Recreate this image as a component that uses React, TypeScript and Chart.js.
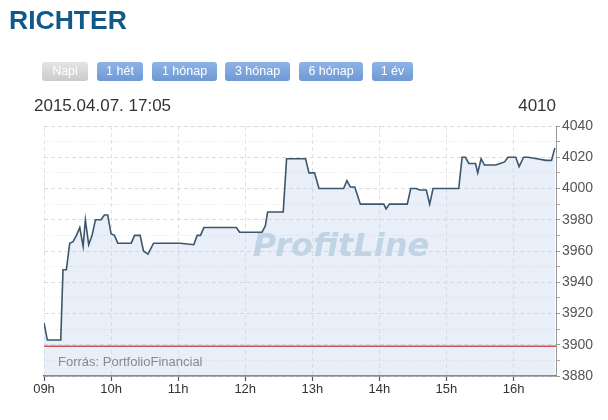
import React, { useEffect, useRef } from "react";
import { Chart, registerables } from "chart.js";

Chart.register(...registerables);

const TITLE = "RICHTER";
const RANGE_BUTTONS = ["Napi", "1 hét", "1 hónap", "3 hónap", "6 hónap", "1 év"];
const ACTIVE_BUTTON = "Napi";
const TIMESTAMP = "2015.04.07. 17:05";
const LAST_PRICE = "4010";
const SOURCE = "Forrás: PortfolioFinancial";
const WATERMARK = "ProfitLine";

const SESSION_START = "09:00";
const SESSION_END = "16:38";
const HOUR_TICKS = [9, 10, 11, 12, 13, 14, 15, 16];

const TIMES = [
  "09:00", "09:03", "09:15", "09:17", "09:20", "09:23", "09:26", "09:29", "09:32", "09:35",
  "09:37", "09:40", "09:43", "09:46", "09:51", "09:54", "09:57", "10:00", "10:03", "10:06",
  "10:18", "10:21", "10:26", "10:29", "10:33", "10:38", "11:02", "11:14", "11:17", "11:20",
  "11:23", "11:52", "11:55", "12:15", "12:18", "12:20", "12:34", "12:37", "12:54", "12:57",
  "13:02", "13:06", "13:28", "13:31", "13:34", "13:38", "13:43", "14:04", "14:06", "14:09",
  "14:25", "14:28", "14:33", "14:36", "14:42", "14:45", "14:48", "15:11", "15:14", "15:17",
  "15:20", "15:23", "15:26", "15:28", "15:31", "15:34", "15:44", "15:48", "15:52", "15:55",
  "16:02", "16:05", "16:09", "16:13", "16:21", "16:29", "16:34", "16:37",
];
const PRICES = [
  3914, 3903, 3903, 3948, 3948, 3965, 3966, 3970, 3975, 3963,
  3980, 3964, 3970, 3980, 3980, 3983, 3983, 3971, 3970, 3965,
  3965, 3970, 3970, 3960, 3958, 3965, 3965, 3964, 3970, 3970,
  3975, 3975, 3972, 3972, 3976, 3985, 3985, 4019, 4019, 4010,
  4010, 4000, 4000, 4005, 4001, 4001, 3990, 3990, 3987, 3990,
  3990, 4000, 4000, 3999, 3999, 3990, 4000, 4000, 4020, 4020,
  4016, 4016, 4016, 4010, 4019, 4015, 4015, 4016, 4017, 4020,
  4020, 4014, 4020, 4020, 4019, 4018, 4018, 4026,
];
const PREV_CLOSE = 3899;

const Y_MIN = 3880;
const Y_MAX = 4040;
const Y_STEP = 10;
const Y_LABEL_STEP = 20;

const FONT = "'Liberation Sans', Arial, Helvetica, sans-serif";

const toMinutes = (t: string) => {
  const [h, m] = t.split(":").map(Number);
  return h * 60 + m;
};
const START_MIN = toMinutes(SESSION_START);
const sinceOpen = (t: string) => toMinutes(t) - START_MIN;

const BUTTON_BOXES = [
  { left: 42, width: 46 },
  { left: 97, width: 46 },
  { left: 152, width: 65 },
  { left: 225, width: 65 },
  { left: 299, width: 64 },
  { left: 372, width: 41 },
];

const watermarkPlugin = {
  id: "watermark",
  afterDatasetsDraw(chart: any) {
    const { ctx, chartArea } = chart;
    const cx = chartArea.left + (chartArea.right - chartArea.left) * 0.58;
    const cy = chartArea.top + (chartArea.bottom - chartArea.top) * 0.487;
    ctx.save();
    ctx.font = "italic bold 32px 'DejaVu Sans', sans-serif";
    ctx.fillStyle = "#c0d4e5";
    ctx.textAlign = "center";
    ctx.textBaseline = "middle";
    ctx.fillText(WATERMARK, cx, cy);
    ctx.restore();
  },
};

export default function App() {
  const canvasRef = useRef<HTMLCanvasElement | null>(null);

  useEffect(() => {
    if (!canvasRef.current) return;
    const priceData = TIMES.map((t, i) => ({ x: sinceOpen(t), y: PRICES[i] }));
    const endX = sinceOpen(SESSION_END);
    const chart = new Chart(canvasRef.current, {
      type: "line",
      data: {
        datasets: [
          {
            label: "Előző záró",
            data: [
              { x: 0, y: PREV_CLOSE },
              { x: endX, y: PREV_CLOSE },
            ],
            borderColor: "#cf5252",
            borderWidth: 1.6,
            pointRadius: 0,
            fill: false,
          },
          {
            label: TITLE,
            data: priceData,
            borderColor: "#3c566c",
            borderWidth: 1.6,
            pointRadius: 0,
            tension: 0,
            fill: "start",
            backgroundColor: "rgba(190,212,235,0.36)",
          },
        ],
      },
      options: {
        animation: false,
        responsive: false,
        devicePixelRatio: 1,
        layout: { padding: { left: 44, top: 126, right: 0, bottom: 14 } },
        plugins: {
          legend: { display: false },
          tooltip: { enabled: false },
        },
        scales: {
          x: {
            type: "linear",
            min: 0,
            max: endX,
            afterBuildTicks: (axis: any) => {
              axis.ticks = HOUR_TICKS.map((h) => ({ value: h * 60 - START_MIN }));
            },
            afterFit: (axis: any) => {
              axis.height = 30;
            },
            ticks: {
              callback: (v: any) => String(Math.round(START_MIN / 60 + v / 60)).padStart(2, "0") + "h",
              color: "#333",
              font: { family: FONT, size: 13 },
              padding: 1,
              maxRotation: 0,
              autoSkip: false,
            },
            grid: {
              color: "#e2e2e2",
              lineWidth: 1,
              tickLength: 5,
              tickColor: "#555",
              tickWidth: 1.2,
            },
            border: {
              color: "#666",
              width: 1.5,
              dash: [4, 3],
            },
          },
          y: {
            position: "right",
            min: Y_MIN,
            max: Y_MAX,
            afterFit: (axis: any) => {
              axis.width = 52;
            },
            ticks: {
              stepSize: Y_STEP,
              autoSkip: false,
              callback: (v: any) => (Number(v) % Y_LABEL_STEP === 0 ? String(v) : ""),
              color: "#555",
              font: { family: FONT, size: 14 },
              padding: 2,
            },
            grid: {
              color: (ctx: any) =>
                ctx.tick && ctx.tick.value % Y_LABEL_STEP !== 0 ? "#e4e4e4" : "#dcdcdc",
              lineWidth: 1,
              tickLength: 4,
              tickColor: (ctx: any) =>
                ctx.tick && ctx.tick.value % Y_LABEL_STEP !== 0 ? "#d49090" : "#999",
            },
            border: {
              color: "#999",
              width: 1,
              dash: (ctx: any) =>
                ctx.tick && ctx.tick.value % Y_LABEL_STEP !== 0 ? [1, 2] : [4, 3],
            },
          },
        },
      },
      plugins: [watermarkPlugin],
    } as any);
    return () => chart.destroy();
  }, []);

  return (
    <div
      style={{
        position: "fixed",
        left: 0,
        top: 0,
        width: 608,
        height: 420,
        background: "#fff",
        fontFamily: FONT,
        overflow: "hidden",
      }}
    >
      <canvas
        ref={canvasRef}
        width={608}
        height={420}
        style={{ position: "absolute", left: 0, top: 0, width: 608, height: 420 }}
      />
      <div
        style={{
          position: "absolute",
          left: 9,
          top: 7,
          fontSize: 26.5,
          lineHeight: "26px",
          fontWeight: "bold",
          color: "#0f5a8a",
        }}
      >
        {TITLE}
      </div>
      {RANGE_BUTTONS.map((label, i) => {
        const active = label === ACTIVE_BUTTON;
        return (
          <div
            key={label}
            style={{
              position: "absolute",
              left: BUTTON_BOXES[i].left,
              width: BUTTON_BOXES[i].width,
              top: 62,
              height: 19,
              lineHeight: "19px",
              borderRadius: 3,
              textAlign: "center",
              fontSize: 12.5,
              color: "#fff",
              background: active
                ? "linear-gradient(#e4e4e4, #cbcbcb)"
                : "linear-gradient(#8fb3e6, #6d99d6)",
            }}
          >
            {label}
          </div>
        );
      })}
      <div
        style={{
          position: "absolute",
          left: 34,
          top: 97,
          fontSize: 17,
          lineHeight: "17px",
          color: "#333",
        }}
      >
        {TIMESTAMP}
      </div>
      <div
        style={{
          position: "absolute",
          right: 52,
          top: 97,
          fontSize: 17,
          lineHeight: "17px",
          color: "#333",
        }}
      >
        {LAST_PRICE}
      </div>
      <div
        style={{
          position: "absolute",
          left: 58,
          top: 355,
          fontSize: 13,
          lineHeight: "13px",
          color: "#8a8a8a",
        }}
      >
        {SOURCE}
      </div>
    </div>
  );
}
